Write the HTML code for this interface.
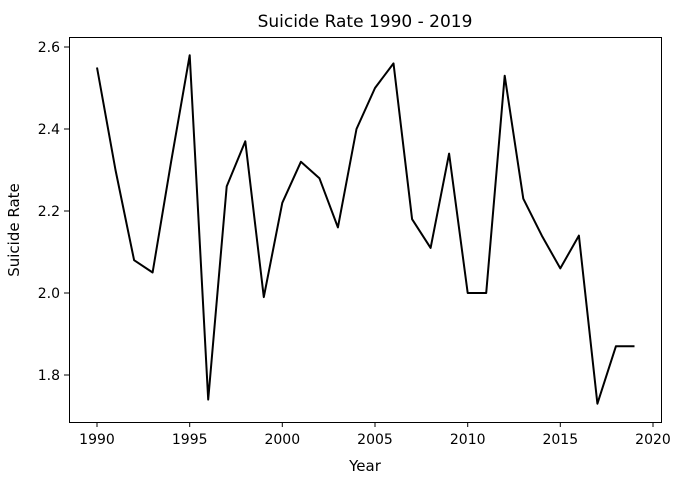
<!DOCTYPE html>
<html><head><meta charset="utf-8"><style>body{margin:0;background:#fff}svg{display:block}</style></head>
<body>
<svg width="683" height="480" xmlns="http://www.w3.org/2000/svg" font-family="DejaVu Sans, Liberation Sans, sans-serif">
<rect width="683" height="480" fill="#fff"/>
<text x="365" y="27" font-size="17" text-anchor="middle">Suicide Rate 1990 - 2019</text>
<polyline fill="none" stroke="#000" stroke-width="2" stroke-linejoin="round" points="97,67.5 115.5,170 134.1,260.2 152.6,272.5 171.1,161.8 189.7,55.2 208.2,399.6 226.7,186.4 245.3,141.3 263.8,297.1 282.3,202.8 300.9,161.8 319.4,178.2 337.9,227.4 356.5,129 375,88 393.5,63.4 412.1,219.2 430.6,247.9 449.1,153.6 467.7,293 486.2,293 504.7,75.7 523.3,198.7 541.8,235.6 560.3,268.4 578.9,235.6 597.4,403.7 615.9,346.3 634.5,346.3"/>
<rect x="69.5" y="37.5" width="592" height="385" fill="none" stroke="#000" stroke-width="1"/>
<g stroke="#000" stroke-width="1">
<line x1="97" y1="422" x2="97" y2="427"/><line x1="189.7" y1="422" x2="189.7" y2="427"/><line x1="282.3" y1="422" x2="282.3" y2="427"/><line x1="375" y1="422" x2="375" y2="427"/><line x1="467.7" y1="422" x2="467.7" y2="427"/><line x1="560.3" y1="422" x2="560.3" y2="427"/><line x1="653" y1="422" x2="653" y2="427"/>
<line x1="64" y1="47" x2="69" y2="47"/><line x1="64" y1="129" x2="69" y2="129"/><line x1="64" y1="211" x2="69" y2="211"/><line x1="64" y1="293" x2="69" y2="293"/><line x1="64" y1="375" x2="69" y2="375"/>
</g>
<g font-size="14" text-anchor="middle">
<text x="97" y="444">1990</text><text x="189.7" y="444">1995</text><text x="282.3" y="444">2000</text><text x="375" y="444">2005</text><text x="467.7" y="444">2010</text><text x="560.3" y="444">2015</text><text x="653" y="444">2020</text>
</g>
<g font-size="14" text-anchor="end">
<text x="60" y="52">2.6</text><text x="60" y="134">2.4</text><text x="60" y="216">2.2</text><text x="60" y="298">2.0</text><text x="60" y="380">1.8</text>
</g>
<text x="365" y="471" font-size="15" text-anchor="middle">Year</text>
<text transform="translate(19,230) rotate(-90)" font-size="15" text-anchor="middle">Suicide Rate</text>
</svg>
</body></html>
